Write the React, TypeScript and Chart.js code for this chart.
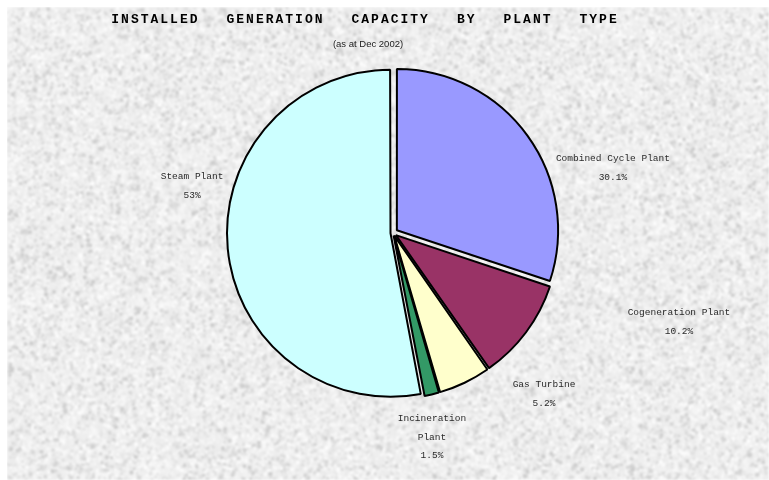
import React, { useEffect, useRef } from "react";
import { Chart, registerables } from "chart.js";

Chart.register(...registerables);

const categories = ["Combined Cycle Plant", "Cogeneration Plant", "Gas Turbine", "Incineration Plant", "Steam Plant"];
const labelLines = [["Combined Cycle Plant"], ["Cogeneration Plant"], ["Gas Turbine"], ["Incineration", "Plant"], ["Steam Plant"]];
const shares = [30.1, 10.2, 5.2, 1.5, 53];
const shareLabels = ["30.1%", "10.2%", "5.2%", "1.5%", "53%"];
const sliceColors = ["#9999FF", "#993366", "#FFFFCC", "#339966", "#CCFFFF"];
const TITLE_WORDS = ["INSTALLED", "GENERATION", "CAPACITY", "BY", "PLANT", "TYPE"];
const SUBTITLE = "(as at Dec 2002)";

// label anchor offsets, in units of the pie radius, from the pie centre
const labelAnchors = [
  [1.366, -0.404],
  [1.776, 0.553],
  [0.938, 1.0],
  [0.242, 1.267],
  [-1.248, -0.292],
];

const EXPLODE_PX = 5;

// Chart.js arc draw translates by offset/4 * (2 - sin(min(PI, circumference)))
function explodeOffsets(values: number[], px: number) {
  const total = values.reduce((a, b) => a + b, 0);
  return values.map((v) => {
    const c = (v / total) * Math.PI * 2;
    const fix = 1 - Math.sin(Math.min(Math.PI, c));
    return (4 * px) / (1 + fix);
  });
}

function mulberry32(a: number) {
  return function () {
    a |= 0;
    a = (a + 0x6d2b79f5) | 0;
    let t = Math.imul(a ^ (a >>> 15), 1 | a);
    t = (t + Math.imul(t ^ (t >>> 7), 61 | t)) ^ t;
    return ((t ^ (t >>> 14)) >>> 0) / 4294967296;
  };
}

function makeTexture(w: number, h: number) {
  const c = document.createElement("canvas");
  c.width = w;
  c.height = h;
  const g = c.getContext("2d")!;
  g.fillStyle = "#ededed";
  g.fillRect(0, 0, w, h);
  const rnd = mulberry32(20021231);
  const n = Math.floor((w * h) / 5);
  for (let i = 0; i < n; i++) {
    const x = rnd() * w;
    const y = rnd() * h;
    const sz = 1 + rnd() * 3;
    const r = rnd();
    let v: number;
    if (r < 0.6) v = 238 + Math.round(rnd() * 15);
    else v = 202 + Math.round(rnd() * 36);
    g.fillStyle = `rgb(${v},${v},${v})`;
    g.fillRect(x, y, sz, sz);
  }
  const c2 = document.createElement("canvas");
  c2.width = w;
  c2.height = h;
  const g2 = c2.getContext("2d")!;
  g2.filter = "blur(0.8px)";
  g2.drawImage(c, 0, 0);
  return c2;
}

export default function App() {
  const ref = useRef<HTMLCanvasElement | null>(null);

  useEffect(() => {
    const canvas = ref.current!;
    const texture = makeTexture(762, 473);

    const bgPlugin = {
      id: "granite",
      beforeDraw(chart: any) {
        const ctx = chart.ctx;
        ctx.save();
        ctx.drawImage(texture, 0, 0);
        ctx.restore();
      },
    };

    const textPlugin = {
      id: "texts",
      afterDraw(chart: any) {
        const ctx = chart.ctx as CanvasRenderingContext2D;
        ctx.save();
        // title, drawn word by word with wide gaps
        ctx.fillStyle = "#000";
        ctx.textBaseline = "middle";
        ctx.textAlign = "left";
        ctx.font = "bold 13px 'Liberation Mono', monospace";
        (ctx as any).letterSpacing = "2px";
        const gap = 27;
        const widths = TITLE_WORDS.map((w) => ctx.measureText(w).width);
        const total = widths.reduce((a, b) => a + b, 0) + gap * (TITLE_WORDS.length - 1);
        let x = 358 - total / 2;
        TITLE_WORDS.forEach((w, i) => {
          ctx.fillText(w, x, 13);
          x += widths[i] + gap;
        });
        (ctx as any).letterSpacing = "0px";
        ctx.textAlign = "center";
        ctx.font = "9.5px 'Liberation Sans', Arial, sans-serif";
        ctx.fillStyle = "#222";
        ctx.fillText(SUBTITLE, 361, 37);

        // slice labels
        const meta = chart.getDatasetMeta(0);
        ctx.font = "9.5px 'Liberation Mono', monospace";
        ctx.fillStyle = "#2a2a2a";
        meta.data.forEach((arc: any, i: number) => {
          const R = arc.outerRadius;
          const cx = arc.x + labelAnchors[i][0] * R;
          const cy = arc.y + labelAnchors[i][1] * R;
          const lines = [...labelLines[i], shareLabels[i]];
          const lh = 18.5;
          const y0 = cy - ((lines.length - 1) * lh) / 2;
          lines.forEach((t, k) => ctx.fillText(t, cx, y0 + k * lh));
        });
        ctx.restore();
      },
    };

    const chart = new Chart(canvas, {
      type: "pie",
      data: {
        labels: categories,
        datasets: [
          {
            data: shares,
            backgroundColor: sliceColors,
            borderColor: "#000",
            borderWidth: 2,
            offset: explodeOffsets(shares, EXPLODE_PX),
          },
        ],
      },
      options: {
        responsive: false,
        animation: false,
        radius: 161,
        layout: { padding: { left: 10, right: 0, top: 56, bottom: 77 } },
        plugins: {
          legend: { display: false },
          tooltip: { enabled: false },
          title: { display: false },
        },
      } as any,
      plugins: [bgPlugin, textPlugin],
    });
    return () => chart.destroy();
  }, []);

  return (
    <div style={{ position: "absolute", left: 7, top: 7, width: 762, height: 473 }}>
      <canvas ref={ref} width={762} height={473} style={{ display: "block" }} />
    </div>
  );
}
